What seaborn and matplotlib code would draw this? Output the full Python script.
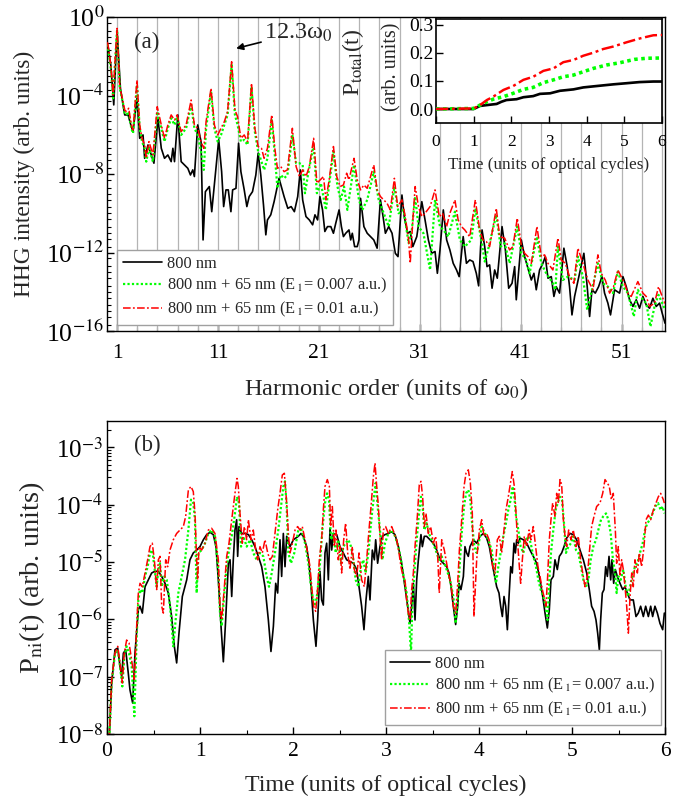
import numpy as np
import pandas as pd
import matplotlib
matplotlib.use("Agg")
import matplotlib.pyplot as plt
import seaborn as sns
from matplotlib.ticker import FixedLocator, FuncFormatter, NullFormatter, LogLocator
from matplotlib.lines import Line2D

# ---------------- data (log10 values) ----------------
# Panel (a): HHG spectrum, (harmonic order, log10 intensity)
hhg_800 = [(0.0,-1.45),(0.11,-1.51),(0.375,-2.44),(0.67,-4.48),(1.0,-0.70),(1.33,-3.63),(1.59,-4.48),(1.76,-4.99),(2.09,-4.99),(2.41,-5.59),(2.58,-5.84),(2.97,-4.14),(3.24,-6.18),(3.57,-6.01),(3.73,-7.20),(4.06,-6.52),(4.39,-7.03),(4.65,-7.45),(5.05,-5.16),(5.38,-6.69),(5.70,-7.20),(6.03,-7.03),(6.36,-7.37),(6.53,-6.69),(6.69,-7.37),(7.02,-4.99),(7.35,-7.37),(7.68,-7.54),(8.01,-7.71),(8.27,-8.05),(8.50,-7.79),(8.66,-8.13),(8.99,-5.50),(9.32,-6.35),(9.52,-11.36),(9.75,-8.90),(10.14,-8.64),(10.38,-9.92),(11.07,-6.26),(11.36,-7.88),(11.56,-9.66),(11.79,-8.81),(12.02,-8.81),(12.28,-9.92),(12.45,-8.81),(12.78,-8.73),(13.04,-6.43),(13.27,-7.88),(13.60,-8.81),(13.86,-9.66),(14.09,-9.15),(14.42,-8.90),(14.75,-8.05),(14.98,-6.94),(15.24,-8.05),(15.51,-9.58),(15.74,-11.10),(15.90,-10.34),(16.23,-10.08),(16.56,-9.41),(17.05,-8.22),(17.55,-9.15),(17.92,-9.75),(18.25,-9.66),(18.57,-9.92),(18.90,-9.15),(19.16,-7.79),(19.39,-9.32),(19.72,-10.17),(20.05,-10.34),(20.38,-10.59),(20.61,-10.08),(20.87,-10.34),(21.10,-9.15),(21.36,-9.83),(21.59,-10.93),(21.85,-10.68),(22.18,-10.68),(22.44,-11.02),(22.67,-10.51),(23.00,-9.83),(23.23,-10.68),(23.43,-11.19),(23.66,-11.02),(23.98,-10.85),(24.15,-11.36),(24.31,-11.02),(24.54,-11.70),(24.80,-11.70),(24.97,-11.36),(25.13,-9.24),(25.46,-10.68),(25.79,-11.02),(26.11,-11.19),(26.44,-11.36),(26.77,-11.78),(27.10,-9.32),(27.36,-10.17),(27.59,-11.02),(27.92,-10.68),(28.25,-11.02),(28.57,-12.04),(28.84,-12.21),(29.23,-9.07),(29.46,-10.17),(29.79,-11.02),(30.05,-10.93),(30.31,-11.70),(30.70,-11.19),(31.20,-9.41),(31.52,-10.34),(31.85,-11.36),(32.18,-12.04),(32.51,-11.95),(32.74,-13.06),(33.00,-11.87),(33.33,-9.83),(33.66,-11.36),(33.98,-11.87),(34.31,-12.55),(34.64,-12.89),(34.90,-13.23),(35.30,-11.19),(35.62,-12.55),(35.95,-12.38),(36.27,-12.46),(36.60,-13.06),(36.83,-13.70),(37.03,-11.70),(37.17,-10.85),(37.43,-11.70),(37.66,-12.72),(37.92,-12.63),(38.16,-13.82),(38.42,-12.89),(38.68,-13.31),(39.15,-10.68),(39.48,-11.87),(39.81,-13.82),(40.14,-13.57),(40.40,-12.72),(40.56,-14.41),(41.06,-11.36),(41.39,-12.21),(41.72,-12.80),(42.05,-13.40),(42.31,-13.06),(42.54,-13.90),(42.87,-12.89),(43.20,-12.55),(43.44,-12.21),(43.70,-13.31),(44.03,-13.23),(44.29,-14.24),(44.52,-13.74),(44.85,-14.07),(45.28,-11.78),(45.61,-12.72),(45.84,-13.74),(46.08,-15.18),(46.34,-14.24),(46.83,-13.06),(47.26,-12.04),(47.59,-13.74),(47.83,-15.26),(48.06,-13.90),(48.39,-14.07),(48.72,-13.74),(49.05,-13.23),(49.31,-14.07),(49.64,-14.58),(49.90,-15.18),(50.30,-13.90),(50.80,-14.07),(51.13,-13.23),(51.46,-13.74),(51.79,-14.41),(52.12,-14.75),(52.45,-14.41),(52.78,-14.84),(53.11,-14.24),(53.44,-14.67),(53.77,-14.84),(54.10,-14.33),(54.43,-14.75),(54.76,-14.58),(55.02,-15.09),(55.3,-15.6)]

hhg_e007 = [(0.0,-1.4),(0.08,-1.51),(0.375,-2.61),(0.61,-4.14),(0.77,-2.61),(1.0,-0.66),(1.26,-3.63),(1.59,-4.40),(1.76,-4.91),(1.92,-4.99),(2.15,-4.82),(2.41,-5.67),(2.58,-5.93),(2.97,-3.46),(3.24,-5.67),(3.47,-6.35),(3.73,-6.69),(3.89,-7.37),(4.16,-6.69),(4.55,-7.37),(4.98,-4.82),(5.38,-5.67),(5.70,-6.35),(6.03,-5.67),(6.36,-5.16),(6.69,-5.50),(6.95,-5.08),(7.35,-6.01),(7.84,-5.67),(8.34,-4.48),(8.66,-5.67),(8.99,-6.01),(9.32,-6.86),(9.59,-7.79),(9.82,-5.67),(10.31,-3.80),(10.64,-5.67),(10.97,-6.35),(11.30,-6.01),(11.63,-5.50),(11.95,-4.99),(12.35,-2.44),(12.68,-4.99),(12.94,-5.50),(13.27,-6.35),(13.60,-6.26),(13.93,-6.52),(14.32,-3.55),(14.65,-5.84),(14.98,-6.86),(15.31,-7.37),(15.57,-7.79),(15.90,-7.20),(16.33,-5.25),(16.63,-7.03),(16.89,-8.73),(17.22,-8.05),(17.55,-8.22),(17.88,-8.05),(18.37,-6.01),(18.74,-7.45),(19.07,-7.45),(19.39,-7.54),(19.62,-8.98),(19.89,-8.13),(20.48,-6.52),(20.80,-8.98),(21.20,-8.47),(21.69,-9.83),(22.44,-6.86),(22.84,-8.64),(23.16,-9.32),(23.49,-8.64),(23.82,-9.83),(24.48,-7.54),(24.97,-9.32),(25.30,-9.83),(25.79,-9.32),(26.44,-7.88),(26.93,-9.32),(27.43,-10.00),(27.92,-10.68),(28.48,-8.64),(28.90,-10.00),(29.39,-9.83),(29.89,-11.53),(30.21,-10.85),(30.54,-9.15),(30.87,-10.68),(31.36,-11.02),(32.02,-12.89),(32.51,-9.32),(33.00,-10.68),(33.33,-10.85),(33.82,-11.19),(34.48,-9.92),(34.97,-11.36),(35.46,-11.70),(35.79,-11.53),(36.11,-11.36),(36.50,-9.75),(37.10,-11.36),(37.43,-12.46),(37.76,-11.87),(38.58,-10.08),(39.01,-11.70),(39.41,-11.53),(39.90,-12.55),(40.66,-10.68),(41.06,-12.04),(41.55,-12.38),(41.88,-13.06),(42.61,-11.19),(43.04,-12.55),(43.53,-13.06),(44.19,-13.57),(44.43,-13.90),(44.69,-11.70),(45.18,-13.40),(45.68,-13.23),(46.34,-13.40),(46.67,-12.21),(47.16,-13.23),(47.59,-14.92),(48.06,-13.90),(48.65,-12.55),(49.15,-13.57),(49.64,-13.74),(50.14,-14.07),(50.63,-12.97),(51.13,-13.74),(51.62,-14.07),(52.21,-15.26),(52.61,-13.90),(53.11,-14.41),(53.44,-14.58),(53.86,-15.77),(54.26,-14.75),(54.66,-14.16),(55.02,-14.58),(55.3,-14.9)]

hhg_e010 = [(0.0,-1.3),(0.08,-1.34),(0.375,-2.44),(0.61,-3.97),(0.77,-2.44),(1.0,-0.58),(1.26,-3.55),(1.59,-4.31),(1.76,-4.74),(1.92,-4.82),(2.15,-4.65),(2.41,-5.50),(2.58,-5.76),(2.97,-3.21),(3.24,-5.50),(3.47,-6.18),(3.73,-6.52),(3.89,-7.20),(4.16,-6.35),(4.55,-7.03),(4.98,-4.57),(5.38,-5.50),(5.70,-6.18),(6.03,-5.50),(6.36,-4.99),(6.69,-5.25),(6.95,-4.99),(7.35,-5.84),(7.84,-5.50),(8.34,-4.23),(8.66,-5.50),(8.99,-5.67),(9.32,-6.35),(9.59,-6.69),(9.82,-5.33),(10.31,-3.63),(10.64,-5.50),(10.97,-6.01),(11.30,-5.67),(11.63,-5.33),(11.95,-4.82),(12.35,-2.28),(12.68,-4.74),(12.94,-5.08),(13.27,-6.18),(13.60,-6.01),(13.93,-6.35),(14.32,-3.38),(14.65,-5.67),(14.98,-6.60),(15.31,-6.69),(15.57,-7.20),(15.90,-6.69),(16.33,-4.99),(16.63,-6.69),(16.89,-7.71),(17.22,-7.62),(17.55,-7.88),(17.88,-7.79),(18.37,-5.67),(18.74,-7.62),(19.07,-8.13),(19.39,-7.79),(19.72,-8.13),(20.05,-7.62),(20.48,-6.18),(20.80,-8.47),(21.13,-8.30),(21.46,-8.13),(21.69,-9.32),(22.02,-8.30),(22.44,-6.60),(22.77,-8.13),(23.10,-8.64),(23.43,-8.56),(23.75,-7.96),(23.98,-8.30),(24.48,-7.20),(24.80,-8.30),(25.13,-8.81),(25.46,-8.56),(25.79,-8.73),(26.44,-7.54),(26.77,-8.81),(27.10,-9.15),(27.43,-9.32),(27.75,-9.49),(28.08,-9.83),(28.48,-8.22),(28.80,-9.66),(29.23,-9.32),(29.56,-10.17),(29.89,-11.36),(30.05,-12.55),(30.31,-10.34),(30.54,-8.64),(30.87,-9.66),(31.20,-10.17),(31.52,-10.00),(32.02,-9.66),(32.51,-8.81),(32.93,-10.17),(33.26,-10.00),(33.66,-10.68),(33.98,-10.00),(34.48,-9.32),(34.80,-10.34),(35.13,-10.68),(35.46,-10.85),(35.95,-11.20),(36.50,-9.32),(36.93,-10.85),(37.26,-11.36),(37.59,-11.44),(37.92,-11.70),(38.58,-9.75),(38.91,-11.19),(39.41,-11.27),(39.90,-11.87),(40.23,-11.70),(40.66,-10.25),(41.06,-11.61),(41.39,-12.04),(41.72,-12.21),(42.05,-12.55),(42.61,-10.68),(43.04,-12.21),(43.37,-12.12),(43.70,-12.55),(44.19,-12.89),(44.69,-11.27),(45.02,-12.38),(45.42,-12.55),(45.84,-13.23),(46.27,-13.57),(46.67,-11.78),(47.16,-12.55),(47.66,-13.40),(48.16,-13.90),(48.65,-12.12),(48.98,-13.06),(49.38,-13.40),(49.81,-14.07),(50.20,-13.74),(50.63,-12.89),(50.96,-13.23),(51.29,-13.57),(51.62,-14.07),(51.95,-14.24),(52.61,-13.48),(53.11,-14.07),(53.44,-14.24),(53.77,-14.75),(54.26,-14.58),(54.66,-13.74),(55.02,-14.24),(55.3,-14.6)]

# Inset: P_total(t), (time, value)
ptot_800 = [(0,0),(1.0,0),(1.17,0.011),(1.35,0.014),(1.61,0.018),(1.74,0.026),(1.87,0.032),(2.14,0.035),(2.32,0.042),(2.58,0.046),(2.76,0.054),(3.03,0.056),(3.29,0.065),(3.65,0.070),(3.91,0.077),(4.27,0.082),(4.71,0.088),(5.06,0.092),(5.4,0.096),(5.77,0.098),(6.0,0.098)]
ptot_e007 = [(0,0),(1.0,0.002),(1.17,0.014),(1.35,0.026),(1.52,0.035),(1.79,0.044),(2.05,0.056),(2.32,0.070),(2.58,0.077),(2.85,0.094),(3.12,0.104),(3.38,0.115),(3.65,0.121),(3.91,0.133),(4.18,0.145),(4.53,0.157),(4.88,0.165),(5.27,0.177),(5.59,0.181),(6.0,0.182)]
ptot_e010 = [(0,0),(1.0,0.002),(1.17,0.014),(1.35,0.032),(1.52,0.044),(1.79,0.068),(2.05,0.082),(2.32,0.104),(2.58,0.115),(2.85,0.136),(3.12,0.145),(3.38,0.167),(3.65,0.175),(3.91,0.190),(4.18,0.201),(4.44,0.214),(4.71,0.223),(5.06,0.238),(5.42,0.252),(5.77,0.263),(6.0,0.264)]

# Panel (b): P_ni(t), (time, log10 value)
pni_800 = [(0.01,-8.6),(0.050,-7.11),(0.086,-6.53),(0.115,-6.50),(0.140,-6.82),(0.158,-6.99),(0.176,-6.59),(0.201,-6.53),(0.229,-6.94),(0.247,-7.23),(0.276,-7.46),(0.301,-6.59),(0.337,-5.83),(0.355,-5.77),(0.380,-5.89),(0.409,-5.43),(0.444,-5.31),(0.480,-5.19),(0.516,-5.16),(0.552,-5.16),(0.588,-5.25),(0.624,-5.37),(0.659,-5.54),(0.695,-5.95),(0.724,-6.47),(0.749,-6.76),(0.774,-6.24),(0.810,-5.60),(0.857,-5.31),(0.892,-4.96),(0.928,-4.84),(0.964,-4.79),(1.000,-4.73),(1.036,-4.61),(1.072,-4.52),(1.108,-4.48),(1.143,-4.52),(1.172,-4.73),(1.197,-5.31),(1.226,-6.12),(1.251,-6.74),(1.276,-6.01),(1.305,-5.02),(1.323,-4.96),(1.341,-5.60),(1.358,-4.96),(1.376,-4.44),(1.394,-4.26),(1.405,-4.90),(1.419,-4.38),(1.448,-4.50),(1.484,-4.50),(1.520,-4.52),(1.556,-4.61),(1.591,-4.73),(1.627,-4.90),(1.663,-5.08),(1.699,-5.43),(1.735,-6.01),(1.763,-6.56),(1.789,-6.12),(1.814,-5.37),(1.835,-5.54),(1.860,-4.61),(1.878,-5.25),(1.896,-4.50),(1.914,-5.08),(1.932,-4.55),(1.968,-4.73),(2.004,-4.61),(2.057,-4.55),(2.086,-4.50),(2.111,-4.55),(2.147,-4.73),(2.172,-5.02),(2.194,-5.43),(2.219,-6.01),(2.247,-6.47),(2.265,-6.01),(2.290,-5.16),(2.308,-5.66),(2.326,-5.75),(2.344,-4.84),(2.362,-4.67),(2.380,-5.31),(2.398,-4.41),(2.416,-4.79),(2.434,-4.50),(2.470,-4.52),(2.505,-4.73),(2.541,-4.84),(2.577,-4.96),(2.613,-4.99),(2.649,-5.02),(2.685,-5.13),(2.710,-5.43),(2.738,-5.77),(2.763,-6.18),(2.785,-5.66),(2.810,-5.25),(2.828,-5.66),(2.853,-4.79),(2.875,-4.96),(2.889,-4.61),(2.910,-5.02),(2.935,-4.73),(2.961,-4.55),(2.989,-4.52),(3.025,-4.50),(3.061,-4.47),(3.097,-4.52),(3.133,-4.73),(3.168,-5.02),(3.204,-5.43),(3.233,-5.77),(3.258,-6.07),(3.276,-5.77),(3.294,-5.37),(3.312,-6.01),(3.330,-5.31),(3.348,-4.96),(3.376,-4.52),(3.391,-4.73),(3.412,-4.55),(3.437,-4.55),(3.473,-4.61),(3.509,-4.67),(3.545,-4.79),(3.581,-4.96),(3.616,-5.02),(3.652,-5.08),(3.677,-5.19),(3.699,-5.43),(3.724,-5.77),(3.749,-6.09),(3.771,-5.77),(3.785,-5.37),(3.806,-5.48),(3.832,-5.25),(3.849,-4.73),(3.867,-4.84),(3.885,-4.90),(3.903,-4.73),(3.939,-4.61),(3.975,-4.67),(4.011,-4.55),(4.047,-4.50),(4.082,-4.58),(4.111,-4.73),(4.136,-4.96),(4.161,-5.19),(4.190,-5.43),(4.215,-5.54),(4.233,-5.77),(4.251,-5.95),(4.269,-5.60),(4.287,-5.77),(4.305,-6.18),(4.323,-5.60),(4.341,-5.08),(4.358,-5.19),(4.376,-4.67),(4.391,-4.84),(4.405,-4.61),(4.423,-4.67),(4.441,-4.58),(4.477,-4.61),(4.513,-4.67),(4.548,-4.79),(4.584,-4.90),(4.620,-5.02),(4.656,-5.31),(4.685,-5.60),(4.710,-5.89),(4.735,-6.15),(4.756,-5.83),(4.774,-5.31),(4.799,-5.25),(4.817,-4.96),(4.842,-5.13),(4.864,-4.90),(4.889,-4.84),(4.914,-4.73),(4.943,-4.58),(4.978,-4.50),(5.014,-4.52),(5.050,-4.61),(5.086,-4.79),(5.122,-4.96),(5.158,-5.19),(5.186,-5.48),(5.211,-5.77),(5.237,-5.86),(5.258,-6.01),(5.276,-6.24),(5.294,-6.53),(5.308,-6.01),(5.326,-5.54),(5.344,-5.48),(5.362,-5.08),(5.380,-5.25),(5.398,-4.90),(5.416,-5.31),(5.430,-4.96),(5.448,-5.37),(5.466,-5.13),(5.487,-5.25),(5.516,-5.37),(5.545,-5.48),(5.570,-5.43),(5.595,-5.54),(5.624,-5.66),(5.659,-5.66),(5.688,-5.95),(5.713,-5.89),(5.738,-5.77),(5.767,-5.95),(5.792,-5.77),(5.821,-5.95),(5.846,-5.77),(5.867,-5.95),(5.892,-5.77),(5.918,-5.89),(5.946,-6.07),(5.975,-6.18),(5.993,-5.89)]

pni_e007 = [(0.01,-8.6),(0.050,-7.11),(0.086,-6.59),(0.115,-6.53),(0.140,-6.82),(0.165,-7.17),(0.186,-6.65),(0.211,-6.47),(0.237,-6.59),(0.265,-6.82),(0.294,-7.69),(0.319,-6.30),(0.337,-5.66),(0.355,-5.48),(0.380,-5.54),(0.409,-5.25),(0.437,-5.08),(0.462,-4.84),(0.487,-4.79),(0.509,-5.08),(0.534,-5.43),(0.552,-5.13),(0.570,-5.02),(0.588,-5.43),(0.616,-5.25),(0.642,-5.31),(0.667,-5.60),(0.688,-5.95),(0.713,-6.47),(0.738,-6.01),(0.767,-5.54),(0.803,-5.25),(0.839,-4.96),(0.875,-4.44),(0.903,-3.91),(0.928,-3.97),(0.946,-4.26),(0.964,-5.54),(0.982,-4.84),(1.018,-4.79),(1.054,-4.67),(1.090,-4.50),(1.125,-4.44),(1.161,-4.55),(1.197,-5.13),(1.215,-5.89),(1.233,-6.12),(1.262,-5.54),(1.287,-5.08),(1.312,-4.79),(1.341,-4.55),(1.376,-4.15),(1.398,-3.86),(1.419,-3.97),(1.441,-4.73),(1.466,-4.55),(1.502,-4.73),(1.538,-4.61),(1.573,-4.84),(1.609,-4.96),(1.645,-4.84),(1.681,-4.90),(1.717,-5.25),(1.742,-5.43),(1.771,-5.19),(1.806,-4.84),(1.842,-4.44),(1.871,-4.03),(1.896,-3.68),(1.914,-3.59),(1.932,-4.03),(1.950,-4.84),(1.978,-5.02),(2.014,-4.84),(2.057,-4.44),(2.093,-4.44),(2.129,-4.67),(2.165,-5.02),(2.190,-5.37),(2.211,-5.60),(2.237,-5.77),(2.262,-5.54),(2.290,-5.02),(2.315,-4.44),(2.344,-3.97),(2.366,-3.80),(2.387,-3.91),(2.409,-4.61),(2.434,-4.50),(2.459,-4.84),(2.487,-4.61),(2.516,-5.02),(2.541,-4.73),(2.566,-4.67),(2.595,-4.61),(2.624,-4.73),(2.649,-4.96),(2.674,-5.31),(2.703,-5.43),(2.731,-5.08),(2.756,-4.96),(2.781,-5.19),(2.810,-4.84),(2.832,-4.44),(2.853,-4.09),(2.875,-3.80),(2.889,-3.62),(2.910,-4.03),(2.935,-4.44),(2.961,-4.96),(2.989,-4.67),(3.025,-4.50),(3.061,-4.44),(3.097,-4.55),(3.133,-4.73),(3.161,-4.96),(3.190,-5.25),(3.222,-5.54),(3.247,-6.01),(3.269,-6.59),(3.283,-5.77),(3.305,-5.19),(3.330,-4.61),(3.355,-4.15),(3.376,-3.86),(3.394,-4.03),(3.412,-4.44),(3.437,-4.32),(3.462,-4.50),(3.491,-4.61),(3.520,-4.73),(3.545,-4.84),(3.570,-4.96),(3.599,-4.90),(3.627,-5.02),(3.652,-5.13),(3.688,-5.31),(3.724,-5.60),(3.749,-6.07),(3.771,-5.66),(3.789,-5.13),(3.814,-4.50),(3.839,-4.03),(3.860,-3.80),(3.885,-3.74),(3.907,-3.91),(3.928,-4.38),(3.950,-4.73),(3.975,-4.84),(4.004,-4.61),(4.029,-4.38),(4.065,-4.50),(4.100,-4.61),(4.136,-4.79),(4.161,-5.08),(4.183,-5.37),(4.208,-5.08),(4.233,-4.84),(4.262,-4.55),(4.290,-4.32),(4.315,-4.09),(4.341,-3.91),(4.362,-3.68),(4.380,-3.86),(4.398,-4.20),(4.423,-4.44),(4.448,-4.73),(4.477,-4.84),(4.505,-4.61),(4.530,-4.55),(4.556,-4.67),(4.584,-4.90),(4.613,-5.08),(4.638,-5.31),(4.663,-5.48),(4.692,-5.60),(4.717,-5.77),(4.738,-6.01),(4.756,-5.31),(4.774,-4.84),(4.799,-4.44),(4.824,-4.09),(4.846,-3.97),(4.871,-3.86),(4.892,-3.91),(4.914,-4.32),(4.935,-4.84),(4.961,-4.73),(4.989,-4.67),(5.014,-4.55),(5.043,-4.79),(5.068,-4.84),(5.097,-5.08),(5.122,-5.31),(5.151,-5.43),(5.176,-5.31),(5.201,-4.96),(5.229,-4.73),(5.258,-4.61),(5.283,-4.44),(5.312,-4.26),(5.337,-4.20),(5.366,-4.15),(5.391,-4.26),(5.416,-4.50),(5.437,-4.90),(5.462,-5.19),(5.480,-5.54),(5.498,-5.25),(5.523,-5.31),(5.552,-5.13),(5.577,-5.43),(5.602,-5.60),(5.624,-5.43),(5.649,-5.25),(5.677,-5.08),(5.703,-5.02),(5.731,-4.84),(5.760,-4.67),(5.785,-4.44),(5.810,-4.32),(5.839,-4.26),(5.867,-4.15),(5.896,-4.03),(5.925,-3.97),(5.953,-4.09),(5.975,-4.03),(5.993,-4.15)]

pni_e010 = [(0.01,-8.6),(0.050,-7.05),(0.086,-6.59),(0.115,-6.47),(0.140,-6.76),(0.165,-7.11),(0.186,-6.59),(0.211,-6.36),(0.237,-6.41),(0.265,-6.71),(0.294,-7.05),(0.319,-6.12),(0.337,-5.54),(0.355,-5.37),(0.380,-5.43),(0.409,-5.19),(0.437,-4.96),(0.462,-4.73),(0.487,-4.67),(0.509,-4.96),(0.534,-5.48),(0.552,-4.96),(0.570,-4.90),(0.588,-5.77),(0.606,-5.89),(0.631,-4.96),(0.652,-5.08),(0.677,-4.79),(0.713,-4.61),(0.749,-4.50),(0.785,-4.44),(0.821,-4.38),(0.846,-4.20),(0.875,-3.74),(0.903,-3.68),(0.928,-3.77),(0.946,-4.15),(0.964,-4.96),(0.975,-5.31),(0.989,-4.73),(1.018,-4.79),(1.054,-4.67),(1.090,-4.44),(1.125,-4.41),(1.161,-4.50),(1.197,-4.96),(1.215,-5.77),(1.233,-6.01),(1.262,-5.43),(1.287,-4.90),(1.312,-4.67),(1.341,-4.26),(1.376,-3.80),(1.398,-3.54),(1.412,-3.68),(1.430,-4.15),(1.455,-4.67),(1.477,-4.38),(1.502,-4.61),(1.520,-4.26),(1.548,-4.61),(1.573,-4.44),(1.599,-4.79),(1.620,-4.96),(1.645,-4.73),(1.670,-4.84),(1.699,-4.61),(1.728,-4.84),(1.753,-4.96),(1.778,-4.90),(1.806,-4.50),(1.835,-4.09),(1.860,-3.80),(1.885,-3.48),(1.907,-3.45),(1.932,-3.97),(1.950,-4.50),(1.968,-4.84),(1.986,-4.73),(2.022,-4.44),(2.050,-4.38),(2.075,-4.44),(2.100,-4.38),(2.129,-4.61),(2.158,-4.84),(2.183,-5.08),(2.201,-5.43),(2.222,-5.77),(2.244,-5.86),(2.262,-5.54),(2.283,-4.96),(2.308,-4.61),(2.326,-4.09),(2.344,-3.68),(2.369,-3.56),(2.391,-3.68),(2.405,-4.38),(2.423,-4.03),(2.444,-4.73),(2.462,-4.44),(2.487,-4.96),(2.505,-4.73),(2.523,-5.19),(2.545,-4.61),(2.566,-4.32),(2.588,-4.84),(2.613,-5.13),(2.638,-4.73),(2.659,-5.13),(2.685,-5.25),(2.710,-4.84),(2.738,-5.31),(2.767,-5.43),(2.792,-4.96),(2.817,-4.44),(2.839,-4.03),(2.864,-3.51),(2.882,-3.27),(2.900,-3.68),(2.918,-4.03),(2.935,-4.55),(2.953,-4.96),(2.971,-4.44),(2.996,-4.38),(3.025,-4.50),(3.061,-4.38),(3.090,-4.50),(3.115,-4.61),(3.140,-4.84),(3.161,-5.08),(3.183,-5.25),(3.204,-5.31),(3.222,-5.66),(3.240,-5.89),(3.258,-6.01),(3.276,-5.48),(3.294,-5.19),(3.312,-4.73),(3.337,-4.20),(3.358,-3.65),(3.376,-3.59),(3.394,-3.86),(3.412,-4.38),(3.430,-4.15),(3.455,-4.50),(3.480,-4.38),(3.509,-4.67),(3.534,-4.55),(3.556,-4.90),(3.573,-5.54),(3.599,-4.61),(3.627,-4.79),(3.652,-5.02),(3.677,-5.25),(3.699,-5.37),(3.724,-5.77),(3.749,-5.89),(3.771,-5.37),(3.789,-4.79),(3.814,-4.26),(3.839,-3.68),(3.860,-3.45),(3.885,-3.39),(3.907,-3.62),(3.928,-4.15),(3.946,-5.95),(3.975,-4.96),(4.004,-4.44),(4.029,-4.26),(4.054,-4.55),(4.082,-4.50),(4.108,-4.61),(4.129,-4.84),(4.147,-5.08),(4.172,-5.19),(4.197,-4.61),(4.219,-4.55),(4.244,-4.84),(4.269,-4.44),(4.290,-4.09),(4.315,-3.86),(4.341,-3.59),(4.358,-3.42),(4.380,-3.68),(4.398,-4.15),(4.416,-4.67),(4.434,-5.08),(4.448,-5.37),(4.466,-4.96),(4.487,-4.55),(4.513,-4.73),(4.538,-4.44),(4.559,-4.61),(4.584,-4.38),(4.609,-4.73),(4.634,-5.08),(4.656,-5.25),(4.681,-5.48),(4.699,-5.60),(4.720,-5.77),(4.738,-5.25),(4.756,-4.61),(4.774,-4.26),(4.792,-3.97),(4.817,-4.20),(4.835,-3.80),(4.853,-3.97),(4.871,-3.56),(4.889,-3.65),(4.907,-4.26),(4.925,-4.55),(4.943,-4.73),(4.964,-4.44),(4.989,-4.61),(5.014,-4.44),(5.043,-4.73),(5.068,-4.55),(5.093,-4.96),(5.115,-5.19),(5.140,-5.43),(5.165,-5.25),(5.186,-4.84),(5.211,-4.38),(5.237,-4.20),(5.265,-4.03),(5.301,-3.97),(5.330,-3.80),(5.355,-3.56),(5.380,-3.62),(5.401,-3.68),(5.423,-3.91),(5.444,-3.80),(5.466,-4.44),(5.480,-5.02),(5.498,-4.73),(5.516,-5.25),(5.534,-4.96),(5.552,-5.13),(5.570,-5.43),(5.588,-5.77),(5.606,-6.24),(5.624,-5.60),(5.642,-5.19),(5.659,-5.43),(5.677,-4.96),(5.703,-5.19),(5.724,-4.84),(5.749,-5.08),(5.774,-4.73),(5.796,-4.26),(5.821,-4.18),(5.846,-4.26),(5.875,-4.09),(5.903,-3.97),(5.928,-3.86),(5.953,-3.80),(5.982,-3.91),(5.993,-3.97)]

labels = ["800 nm",
          r"800 nm + 65 nm (E$_{\,1}$= 0.007 a.u.)",
          r"800 nm + 65 nm (E$_{\,1}$= 0.01 a.u.)"]
colors = ["#000000", "#00ff00", "#ff0000"]
styles = ["-", (0, (1, 1)), (0, (5, 1.5, 1.2, 1.5))]
widths = [1.2, 1.6, 1.1]

# ---------------- style ----------------
sns.set_style("ticks")
plt.rcParams.update({
    "font.family": ["Liberation Serif", "DejaVu Serif"],
    "mathtext.fontset": "stix",
    "axes.linewidth": 1.0,
    "xtick.direction": "in",
    "ytick.direction": "in",
    "axes.edgecolor": "black",
    "xtick.color": "black",
    "ytick.color": "black",
})

W, H = 687, 808
fig = plt.figure(figsize=(W / 100, H / 100), dpi=100)
ax1 = fig.add_axes([107 / W, 1 - 331 / H, 558 / W, 314 / H])
ax2 = fig.add_axes([107 / W, 1 - 734 / H, 558 / W, 313 / H])
axin = fig.add_axes([436 / W, 1 - 123.3 / H, 226 / W, 104 / H])


def draw(ax, pairs, xname, k, lw_scale=1.0, logy=True, z=2):
    df = pd.DataFrame(pairs, columns=[xname, "val"])
    if logy:
        df["val"] = 10.0 ** df["val"]
    sns.lineplot(data=df, x=xname, y="val", ax=ax, color=colors[k],
                 linestyle=styles[k], linewidth=widths[k] * lw_scale,
                 estimator=None, sort=False, legend=False, zorder=z + k)


def log_fmt(v, pos):
    return r"10$^{%d}$" % int(round(np.log10(v)))


# ---------------- panel (a) ----------------
ax1.set_yscale("log")
for h in range(1, 56, 2):
    ax1.axvline(h, color="#b4b4b4", lw=0.9, zorder=1)
for k, s in enumerate([hhg_800, hhg_e007, hhg_e010]):
    draw(ax1, s, "h", k)
ax1.set_xlim(0.0, 55.3)
ax1.set_ylim(1e-16, 1e0)
ax1.xaxis.set_major_locator(FixedLocator([1, 11, 21, 31, 41, 51]))
ax1.xaxis.set_minor_locator(FixedLocator(list(range(3, 56, 2))))
ax1.yaxis.set_major_locator(FixedLocator([1e0, 1e-4, 1e-8, 1e-12, 1e-16]))
ax1.yaxis.set_major_formatter(FuncFormatter(log_fmt))
ax1.yaxis.set_minor_locator(FixedLocator([m * 10.0 ** e for e in range(-16, 0) for m in (1, 2, 5)]))
ax1.yaxis.set_minor_formatter(NullFormatter())
ax1.tick_params(which="major", length=5, width=1.0)
ax1.tick_params(which="minor", length=3, width=0.8)
ax1.tick_params(axis="x", which="both", pad=9, labelsize=15.5)
ax1.tick_params(axis="y", which="both", pad=2, labelsize=18.5)
ax1.set_xlabel(r"Harmonic order (units of ω$_0$)", fontsize=17.6, labelpad=10)
ax1.set_ylabel("HHG intensity (arb. units)", fontsize=16.9, labelpad=8)
ax1.text(0.072, 0.92, "(a)", transform=ax1.transAxes, fontsize=16.5, ha="center", va="center")
ax1.annotate(r"12.3ω$_0$", xy=(12.8, 10 ** -1.6), xytext=(15.6, 10 ** -0.8),
             fontsize=17.5, ha="left", va="center",
             arrowprops=dict(arrowstyle="-|>", color="k", lw=1.2, mutation_scale=10,
                             shrinkA=0, shrinkB=0))
handles = [Line2D([], [], color=colors[k], linestyle=styles[k], linewidth=widths[k]) for k in range(3)]
leg_kw = dict(frameon=True, fancybox=False, edgecolor="#a0a0a0", framealpha=1, fontsize=11.8,
              handlelength=2.4, handletextpad=0.3, borderpad=0.35, labelspacing=0.28, borderaxespad=0)
leg1 = ax1.legend(handles, labels, loc="lower left", bbox_to_anchor=(0.018, 0.019), **leg_kw)
leg1.get_frame().set_linewidth(1.0)
leg1.set_zorder(10)

# ---------------- inset ----------------
axin.set_facecolor("white")
for k, s in enumerate([ptot_800, ptot_e007, ptot_e010]):
    draw(axin, s, "t", k, lw_scale=1.6, logy=False)
axin.set_xlim(0, 6)
axin.set_ylim(-0.051, 0.32)
axin.xaxis.set_major_locator(FixedLocator([0, 1, 2, 3, 4, 5, 6]))
axin.yaxis.set_major_locator(FixedLocator([0.0, 0.1, 0.2, 0.3]))
axin.yaxis.set_major_formatter(FuncFormatter(lambda v, p: "%.1f" % v))
axin.tick_params(which="major", length=5, width=1.0)
axin.tick_params(axis="x", pad=8, labelsize=12.5)
axin.tick_params(axis="y", pad=1.5, labelsize=14)
axin.set_xlabel("Time (units of optical cycles)", fontsize=12.3, labelpad=5)
axin.set_ylabel("")
axin.text(-0.195, 0.54, "(arb. units)", transform=axin.transAxes, rotation=90,
          ha="center", va="center", fontsize=14.5)
axin.text(-0.367, 0.59, r"P$_{\mathrm{total}}$(t)", transform=axin.transAxes, rotation=90,
          ha="center", va="center", fontsize=17)
for sp in axin.spines.values():
    sp.set_linewidth(1.2)

# ---------------- panel (b) ----------------
ax2.set_yscale("log")
for k, s in enumerate([pni_800, pni_e007, pni_e010]):
    draw(ax2, s, "t", k)
ax2.set_xlim(0, 6)
ax2.set_ylim(1e-8, 2.9e-3)
ax2.xaxis.set_major_locator(FixedLocator([0, 1, 2, 3, 4, 5, 6]))
ax2.xaxis.set_minor_locator(FixedLocator([0.5, 1.5, 2.5, 3.5, 4.5, 5.5]))
ax2.yaxis.set_major_locator(FixedLocator([1e-8, 1e-7, 1e-6, 1e-5, 1e-4, 1e-3]))
ax2.yaxis.set_major_formatter(FuncFormatter(log_fmt))
ax2.yaxis.set_minor_locator(LogLocator(base=10, subs=np.arange(2, 10), numticks=20))
ax2.yaxis.set_minor_formatter(NullFormatter())
ax2.tick_params(which="major", length=5, width=1.0)
ax2.tick_params(which="minor", length=3, width=0.8)
ax2.tick_params(axis="x", which="both", pad=6, labelsize=15.5)
ax2.tick_params(axis="y", which="both", pad=3, labelsize=18)
ax2.set_xlabel("Time (units of optical cycles)", fontsize=17.3, labelpad=10)
ax2.set_ylabel(r"P$_{\mathrm{ni}}$(t) (arb. units)", fontsize=20.5, labelpad=6)
ax2.text(0.072, 0.923, "(b)", transform=ax2.transAxes, fontsize=16.5, ha="center", va="center")
leg2 = ax2.legend(handles, labels, loc="lower right", bbox_to_anchor=(0.993, 0.029), **leg_kw)
leg2.get_frame().set_linewidth(1.0)
leg2.set_zorder(10)

fig.savefig("out.png", dpi=100)
